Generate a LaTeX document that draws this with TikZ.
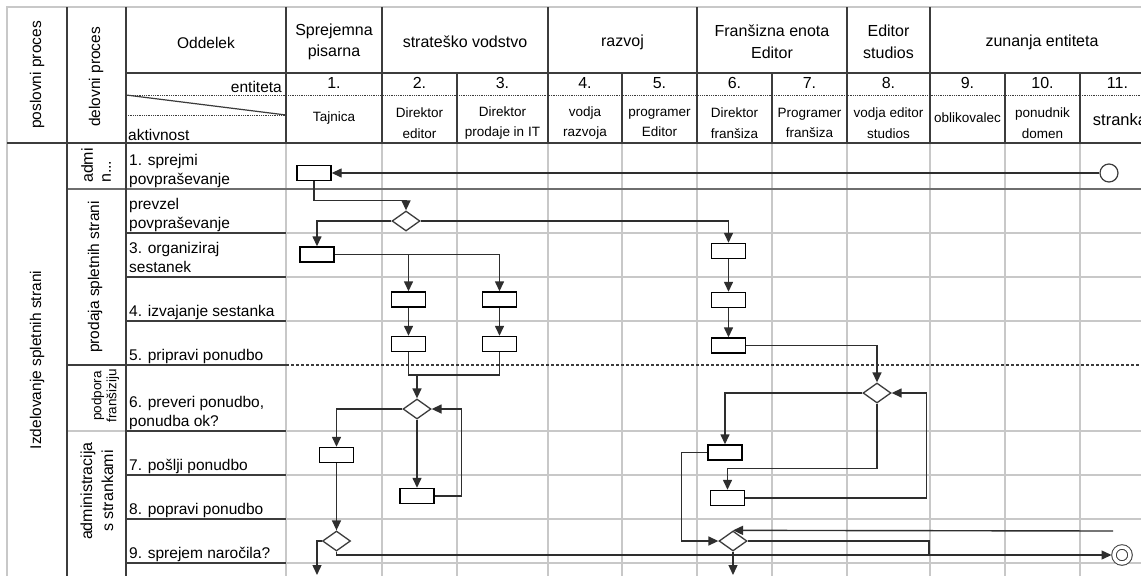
\documentclass[tikz,border=0pt]{standalone}
\usepackage{fontspec}
\setmainfont{Liberation Sans}
\usetikzlibrary{shapes.geometric,arrows.meta}
\definecolor{mreza}{HTML}{C8C8C8}
\definecolor{rob}{HTML}{3C3C3C}
\definecolor{sivo}{HTML}{6E6E6E}
\definecolor{tok}{HTML}{2E2E2E}

\tikzset{
  akt/.style={draw=black,line width=1.4pt,minimum width=34pt,minimum height=15pt,inner sep=0pt},
  odl/.style={diamond,draw=rob,line width=1.3pt,minimum width=28pt,minimum height=20pt,inner sep=0pt},
  pot/.style={draw=tok,line width=1.4pt,-{Triangle[length=10pt,width=9pt]}},
  vez/.style={draw=tok,line width=1.4pt},
}

\begin{document}
\begin{tikzpicture}[x=1pt,y=-1pt,font=\fontsize{15.5}{19}\selectfont]
  \useasboundingbox[fill=white] (0,0) rectangle (1141,576);
  \foreach \x in {286,382,457,548,622,697,772,847,930,1005,1080}
    \draw[mreza,line width=1.3pt] (\x,143) -- (\x,576);
  \foreach \y in {233,277,321,431,475,519,563} {
    \draw[mreza,line width=1.3pt] (286,\y) -- (1141,\y);
    \draw[rob,line width=1.2pt] (126,\y) -- (286,\y);
  }
  \draw[sivo,line width=1.4pt] (67,189) -- (1141,189);
  \draw[rob,line width=1.2pt] (67,365) -- (286,365);
  \draw[rob,line width=1.2pt,dash pattern=on 3pt off 2pt] (286,365) -- (1141,365);
  \draw[mreza,line width=1.3pt] (67,431) -- (126,431);

  \draw[mreza,line width=1.2pt] (7,576) -- (7,7) -- (1141,7);
  \draw[rob,line width=1.2pt] (126,73) -- (1141,73);
  \draw[rob,line width=0.8pt,densely dotted] (126,95) -- (1141,95);
  \draw[rob,line width=0.8pt,densely dotted] (126,115) -- (286,115);
  \draw[rob,line width=1.2pt] (126,95) -- (286,115);
  \foreach \x in {286,382,548,697,847,930}
    \draw[rob,line width=1.2pt] (\x,7) -- (\x,143);
  \foreach \x in {457,622,772,1005,1080}
    \draw[rob,line width=1.2pt] (\x,73) -- (\x,143);
  \draw[rob,line width=2.2pt] (7,143) -- (1141,143);
  \draw[rob,line width=2.2pt] (67,7) -- (67,576) (126,7) -- (126,576);

  \node[rotate=90] (posl) at (37,75) {poslovni proces};
  \node[rotate=90] (delo) at (96,77) {delovni proces};
  \node[anchor=base] (oddelek) at (206,48) {Oddelek};
  \node[anchor=base east,inner sep=0pt] (entiteta) at (282,92) {entiteta};
  \node[anchor=base west,inner sep=0pt] (aktivnost) at (128,140) {aktivnost};

  \foreach \x/\lbl [count=\i] in {334/{Sprejemna\\pisarna}, 465/{strateško vodstvo}, 622.5/{razvoj},
      772/{Franšizna enota\\Editor}, 888.5/{Editor\\studios}, 1042/{zunanja entiteta}}
    \node[align=center,font=\fontsize{16}{21.5}\selectfont] (odd\i) at (\x,42) {\lbl};

  \foreach \x [count=\i] in {334,419.5,502.5,585,659.5,734.5,809.5,888.5,967.5,1042.5,1117.5}
    \node[anchor=base,inner sep=0pt,font=\fontsize{16}{19}\selectfont] (st\i) at (\x,88) {\i.};

  \foreach \x/\y/\lbl [count=\i] in {334/118/{Tajnica}, 419.5/123/{Direktor\\editor}, 502.5/123/{Direktor\\prodaje in IT},
      585/123/{vodja\\razvoja}, 659.5/123/{programer\\Editor}, 734.5/123/{Direktor\\franšiza}, 809.5/123/{Programer\\franšiza},
      888.5/123/{vodja editor\\studios}, 967.5/118/{oblikovalec}, 1042.5/123/{ponudnik\\domen}}
    \node[align=center,inner sep=0pt,font=\fontsize{13.5}{20.5}\selectfont] (ent\i) at (\x,\y) {\lbl};
  \node[font=\fontsize{16.5}{19}\selectfont,inner sep=0pt] (ent11) at (1120,120) {stranka};

  \foreach \y/\lbl [count=\i] in {189/{1. sprejmi\\povpraševanje}, 233/{prevzel\\povpraševanje},
      277/{3. organiziraj\\sestanek}, 321/{4. izvajanje sestanka}, 365/{5. pripravi ponudbo},
      431/{6. preveri ponudbo,\\ponudba ok?}, 475/{7. pošlji ponudbo}, 519/{8. popravi ponudbo},
      563/{9. sprejem naročila?}}
    \node[anchor=south west,align=left,inner sep=0pt] (opis\i) at (129,\y+1) {\lbl\strut};

  \node[rotate=90] (proces) at (37,360) {Izdelovanje spletnih strani};
  \node[rotate=90,align=left,font=\fontsize{16}{18}\selectfont] (pas1) at (96,165.5) {admi\\n...};
  \node[rotate=90] (pas2) at (95,277) {prodaja spletnih strani};
  \node[rotate=90,align=center,font=\fontsize{13.5}{15}\selectfont] (pas3) at (105.5,396) {podpora\\franšiziju};
  \node[rotate=90,align=center,font=\fontsize{16}{21}\selectfont] (pas4) at (97,491) {administracija\\s strankami};

  \node[circle,draw=rob,line width=1.2pt,minimum size=18pt,inner sep=0pt] (zac) at (1109,173) {};
  \node[circle,draw=rob,line width=1pt,double,double distance=3.5pt,minimum size=16pt,inner sep=0pt,outer sep=2.5pt] (kon) at (1122,555) {};

  \node[akt] (spr) at (314,173) {};
  \node[odl] (prev) at (406,221) {};
  \node[akt] (org) at (317,254.5) {};
  \node[akt] (forg) at (728.5,251) {};
  \node[akt] (izv1) at (408.5,299.5) {};
  \node[akt] (izv2) at (499.5,299.5) {};
  \node[akt] (fizv) at (728.5,300) {};
  \node[akt] (pri1) at (408.5,344) {};
  \node[akt] (pri2) at (499.5,344) {};
  \node[akt] (fpri) at (728.5,345.5) {};
  \node[odl] (prev1) at (417,409) {};
  \node[odl] (fprev) at (877,393) {};
  \node[akt] (posl1) at (336.5,455) {};
  \node[akt] (pop1) at (417,496) {};
  \node[akt] (fposl) at (725,452.5) {};
  \node[akt] (fpop) at (727.5,498) {};
  \node[odl] (nar1) at (336.5,541) {};
  \node[odl] (fnar) at (733,541) {};

  \coordinate (zdr) at (417,375);
  \coordinate (dol1) at (317,575);
  \coordinate (dol2) at (733,575);
  \coordinate (des) at (1113,531);
  \coordinate (stik) at (929,555);

  \draw[pot] (zac.west) -- (spr.east);
  \draw[pot] (spr.south) -- ++(0,19) -| (prev.north);
  \draw[pot] (prev.west) -| (org.north);
  \draw[pot] (prev.east) -| (forg.north);
  \draw[pot] (org.east) -| (izv1.north);
  \draw[pot] (org.east) -| (izv2.north);
  \draw[pot] (izv1) -- (pri1);
  \draw[pot] (izv2) -- (pri2);
  \draw[pot] (forg) -- (fizv);
  \draw[pot] (fizv) -- (fpri);
  \draw[vez] (pri1.south) |- (zdr);
  \draw[vez] (pri2.south) |- (zdr);
  \draw[pot] (zdr) -- (prev1.north);
  \draw[pot] (fpri.east) -| (fprev.north);
  \draw[pot] (prev1.west) -| (posl1.north);
  \draw[pot] (prev1.south) -- (pop1.north);
  \draw[pot] (pop1.east) -- ++(27,0) |- (prev1.east);
  \draw[pot] (fprev.west) -| (fposl.north);
  \draw[pot] (fprev.south) -- ++(0,65) -| (fpop.north);
  \draw[pot] (fpop.east) -- ++(181,0) |- (fprev.east);
  \draw[pot] (posl1.south) -- (nar1.north);
  \draw[pot] (fposl.west) -- ++(-26,0) |- (fnar.west);
  \draw[pot] (nar1.west) -| (dol1);
  \draw[pot] (fnar.south) -- (dol2);
  \draw[pot] (nar1.south) |- (kon.west);
  \draw[vez] (fnar.east) -| (stik);
  \draw[pot] (des) -- (fnar.north);
\end{tikzpicture}
\end{document}
